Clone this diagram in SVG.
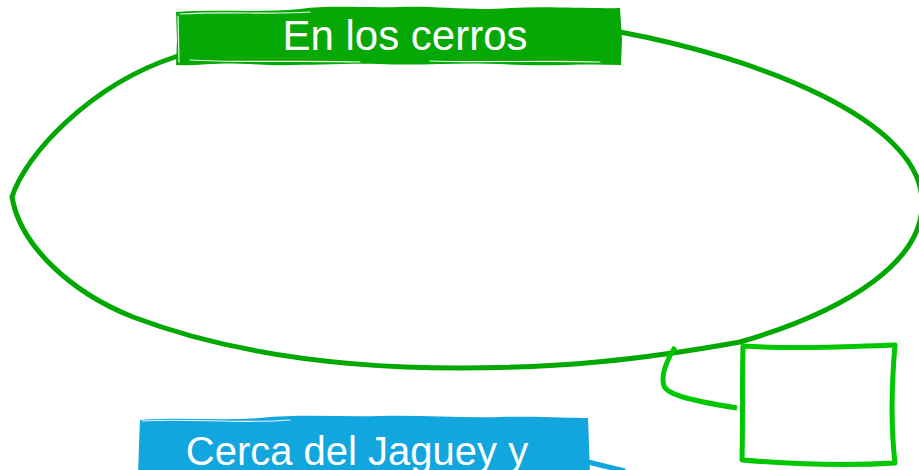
<svg xmlns="http://www.w3.org/2000/svg" width="919" height="470" viewBox="0 0 919 470">
  <style>
    .group-outline { fill: none; stroke: #02a802; stroke-width: 5; stroke-linecap: round; stroke-linejoin: round; }
    .title-bg-green { fill: #05a805; }
    .title-bg-blue { fill: #12a6de; }
    .streak { fill: none; stroke: #ffffff; stroke-width: 1.2; stroke-linecap: round; opacity: 0.9; }
    .title { font-family: "Liberation Sans", Arial, sans-serif; fill: #ffffff; text-anchor: middle; }
    .small-node { fill: #ffffff; stroke: #00c800; stroke-width: 5; stroke-linejoin: round; stroke-linecap: round; }
    .connector { fill: none; stroke: #00c800; stroke-width: 5; stroke-linecap: butt; }
    .blue-outline { fill: none; stroke: #12a6de; stroke-width: 5; stroke-linecap: butt; }
  </style>

  <g id="group-cerros">
    <path class="group-outline" d="M12,197 C25,155 90,85 175,57 C300,16 500,9 620,32 C760,58 919,120 922,200 C925,260 850,310 740,342 C640,360 560,368 460,368 C330,368 220,350 133,317 C70,292 20,245 12,197 Z"/>
    <path class="title-bg-green" d="M176,12 C220,9 260,13 300,9 C330,5 360,8 400,7 C440,6 470,11 510,8 C550,6 590,9 620,8 L622,40 L621,65 C580,63 540,67 500,64 C460,62 420,66 380,64 C330,63 290,67 250,64 C220,62 195,66 176,65 L177,40 Z"/>
    <path class="streak" d="M180,14 C230,11 270,15 310,12"/>
    <path class="streak" d="M190,60 C240,63 300,60 360,62"/>
    <path class="streak" d="M430,61 C480,63 540,60 600,62"/>
    <path class="streak" d="M178,16 L179,62"/>
    <text class="title" x="405" y="50" font-size="42">En los cerros</text>
  </g>

  <g id="node-small">
    <path class="small-node" d="M743,346 C790,349 840,347 895,345 C892,380 890,420 895,463 C845,466 790,464 742,460 C743,420 742,380 743,346 Z"/>
  </g>

  <g id="group-jaguey">
    <path class="blue-outline" d="M588,462 C600,465 612,468 625,471"/>
    <path class="title-bg-blue" d="M140,420 C180,417 220,421 260,418 C300,414 340,417 380,416 C420,415 460,418 500,417 C540,416 570,418 588,418 L589,445 L590,475 L138,475 L139,445 Z"/>
    <path class="streak" d="M142,421 C190,418 240,424 290,420"/>
    <path class="streak" d="M136,423 L137,470"/>
    <text class="title" x="357" y="465" font-size="40">Cerca del Jaguey y</text>
  </g>

  <g id="connectors">
    <path class="connector" d="M675,347 C668,358 660,375 664,386 C668,396 700,402 737,408"/>
  </g>
</svg>
